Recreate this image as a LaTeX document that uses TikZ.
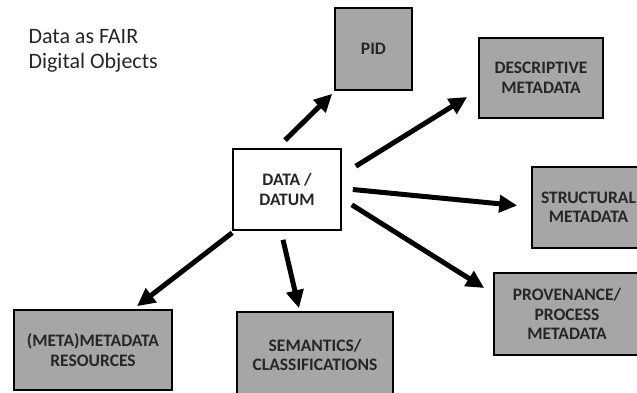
\documentclass[tikz,border=0pt]{standalone}
\usepackage{fontspec}
\setmainfont{Carlito}
\usetikzlibrary{arrows.meta,calc}
\definecolor{boxgray}{RGB}{166,166,166}
\definecolor{inkgray}{RGB}{38,38,38}
\tikzset{
  facet/.style={draw=black, line width=1.6pt, fill=boxgray, inner sep=0pt,
    align=center, font=\bfseries\fontsize{17.5}{19.5}\selectfont, text=inkgray},
  core/.style={facet, fill=white},
  link/.style={line width=5pt, -{Triangle[length=18pt,width=17pt]}}
}
\begin{document}
\begin{tikzpicture}[x=1pt,y=-1pt]
  \useasboundingbox (0,0) rectangle (637,392);
  \clip (0,0) rectangle (637,392);

  % heading, anchored on the baseline of its second line
  \node[anchor=base west, align=left, text=inkgray,
        font=\fontsize{22}{25}\selectfont] (title) at (25,68)
    {Data as FAIR\\Digital Objects};

  \node[core, minimum width=108pt, minimum height=81pt] (data) at (287,189.5) {DATA /\\DATUM};
  \node[facet, minimum width=77pt, minimum height=82pt] (pid) at (373.5,49) {PID};
  \node[facet, minimum width=124pt, minimum height=80pt] (desc) at (541,78) {DESCRIPTIVE\\METADATA};
  \node[facet, minimum width=113pt, minimum height=81pt] (struct) at (588.5,207.5) {STRUCTURAL\\METADATA};
  \node[facet, minimum width=146pt, minimum height=82pt] (prov) at (567,314) {PROVENANCE/\\PROCESS\\METADATA};
  \node[facet, minimum width=158pt, minimum height=80pt] (meta) at (93,350) {(META)METADATA\\RESOURCES};
  \node[facet, minimum width=156pt, minimum height=86pt] (sem) at (315,355) {SEMANTICS/\\CLASSIFICATIONS};

  \draw[link] ($(data.north)+(-2,-8)$) -- ($(pid.south west)+(-2,3)$);
  \draw[link] ($(data.north east)+(14,18)$) -- ($(desc.west)+(-11,19)$);
  \draw[link] ($(data.east)+(11,0)$) -- ($(struct.west)+(-14,-2)$);
  \draw[link] ($(data.south east)+(10,-26)$) -- ($(prov.west)+(-9,-26)$);
  \draw[link] ($(data.south west)+(0,2)$) -- ($(meta.north)+(44,-3)$);
  \draw[link] ($(data.south)+(-4,9)$) -- ($(sem.north)+(-16,-3)$);
\end{tikzpicture}
\end{document}
